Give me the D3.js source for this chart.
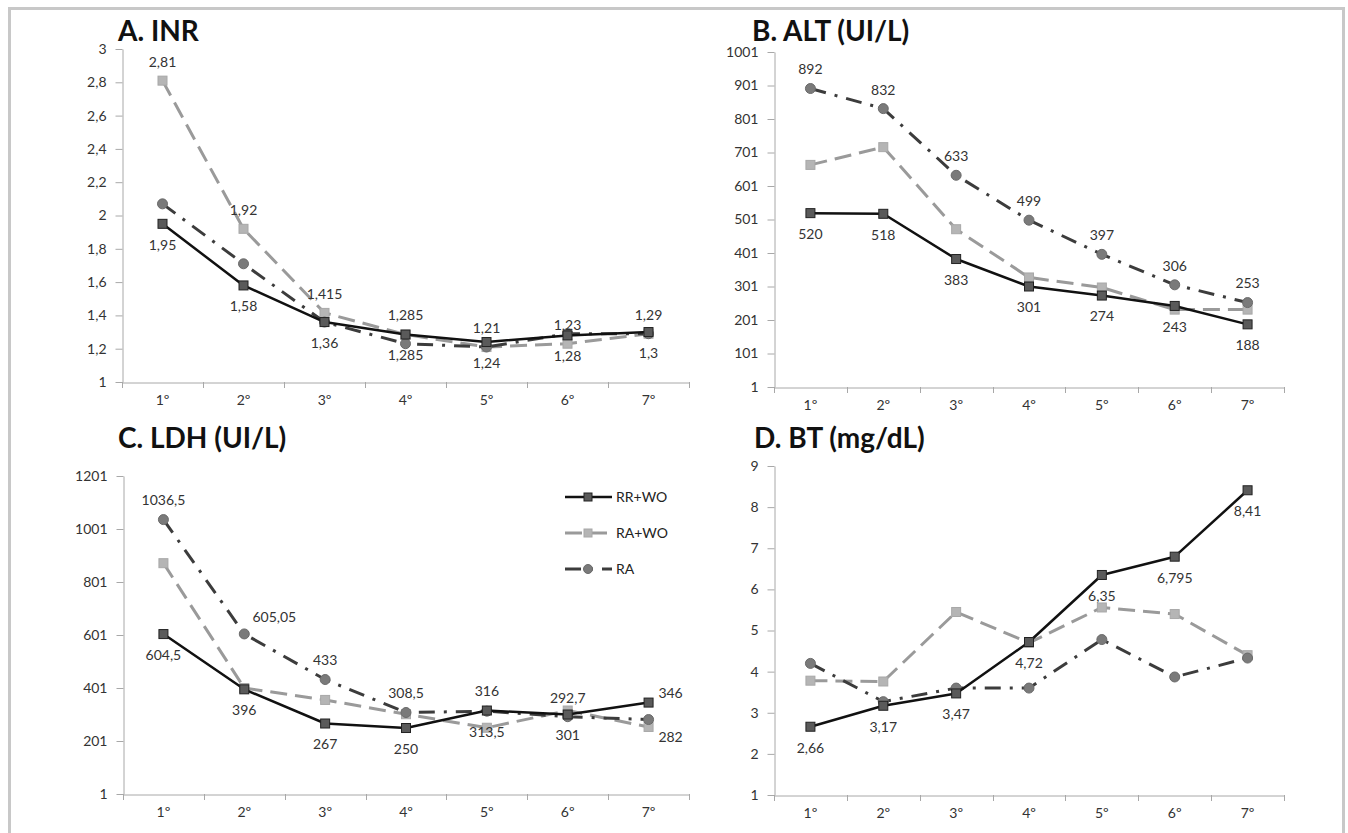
<!DOCTYPE html>
<html>
<head>
<meta charset="utf-8">
<script src="https://cdn.jsdelivr.net/npm/d3@7"></script>
<style>
  html, body { margin: 0; padding: 0; background: #fff; }
  svg { display: block; }
  text { font-family: Lato, "Open Sans", sans-serif; }
</style>
</head>
<body>
<svg id="chart" width="1348" height="833"></svg>
<script>
// ---------- DATA ----------
const categories = ["1º", "2º", "3º", "4º", "5º", "6º", "7º"];
const seriesNames = ["RR+WO", "RA+WO", "RA"];

// A. INR
const inrRRWO = [1.95, 1.58, 1.36, 1.285, 1.24, 1.28, 1.3];
const inrRAWO = [2.81, 1.92, 1.415, 1.285, 1.21, 1.23, 1.29];
const inrRA   = [2.07, 1.71, 1.36, 1.23, 1.21, 1.29, 1.29];
const inrTicks = [1, 1.2, 1.4, 1.6, 1.8, 2, 2.2, 2.4, 2.6, 2.8, 3];

// B. ALT
const altRRWO = [520, 518, 383, 301, 274, 243, 188];
const altRAWO = [664, 717, 472, 328, 298, 232, 232];
const altRA   = [892, 832, 633, 499, 397, 306, 253];
const altTicks = [1, 101, 201, 301, 401, 501, 601, 701, 801, 901, 1001];

// C. LDH
const ldhRRWO = [604.5, 396, 267, 250, 316, 301, 346];
const ldhRAWO = [872, 401, 356, 302, 251, 316, 254];
const ldhRA   = [1036.5, 605.05, 433, 308.5, 313.5, 292.7, 282];
const ldhTicks = [1, 201, 401, 601, 801, 1001, 1201];

// D. BT
const btRRWO = [2.66, 3.17, 3.47, 4.72, 6.35, 6.795, 8.41];
const btRAWO = [3.78, 3.76, 5.45, 4.70, 5.56, 5.40, 4.40];
const btRA   = [4.20, 3.27, 3.60, 3.60, 4.78, 3.87, 4.33];
const btTicks = [1, 2, 3, 4, 5, 6, 7, 8, 9];

// ---------- LABEL PLACEMENT (style, not data) ----------
const labelPlacement = {
  A: { "RR+WO": ["b","b","b","b","b","b","b"], "RA+WO": ["a","a","a","a","a","a","a"] },
  B: { "RR+WO": ["b","b","b","b","b","b","b"], "RA": ["a","a","a","a","a","a","a"] },
  C: { "RR+WO": ["b","b","b","b","a","b","r"], "RA": ["a","ar","a","a","b","a","rb"] },
  D: { "RR+WO": ["b","b","b","b","b","b","b"] }
};
const labelOffsets = {
  a: [0, -19], b: [0, 21], ar: [30, -17], r: [22, -9], rb: [22, 18]
};

// ---------- STYLES ----------
const styles = {
  "RA+WO": { stroke: "#9a9a9a", width: 3, dash: "17,8", marker: "square", fill: "#b5b5b5", mstroke: "#a8a8a8" },
  "RA":    { stroke: "#3c3c3c", width: 3, dash: "16,9,3,9", marker: "circle", fill: "#7a7a7a", mstroke: "#6a6a6a" },
  "RR+WO": { stroke: "#111111", width: 2.5, dash: null, marker: "square", fill: "#5a5a5a", mstroke: "#222" }
};
const drawOrder = ["RA+WO", "RA", "RR+WO"];

const panels = [
  { key: "A", title: "A. INR", titleX: 118, titleY: 41, x0: 122, x1: 689, yTop: 49, yBot: 382,
    domain: [1, 3], ticks: inrTicks, data: { "RR+WO": inrRRWO, "RA+WO": inrRAWO, "RA": inrRA } },
  { key: "B", title: "B. ALT (UI/L)", titleX: 752, titleY: 41, x0: 774, x1: 1284, yTop: 52, yBot: 387,
    domain: [1, 1001], ticks: altTicks, data: { "RR+WO": altRRWO, "RA+WO": altRAWO, "RA": altRA } },
  { key: "C", title: "C. LDH (UI/L)", titleX: 118, titleY: 448, x0: 123, x1: 689, yTop: 476, yBot: 794,
    domain: [1, 1201], ticks: ldhTicks, data: { "RR+WO": ldhRRWO, "RA+WO": ldhRAWO, "RA": ldhRA } },
  { key: "D", title: "D. BT (mg/dL)", titleX: 754, titleY: 448, x0: 774, x1: 1284, yTop: 466, yBot: 795,
    domain: [1, 9], ticks: btTicks, data: { "RR+WO": btRRWO, "RA+WO": btRAWO, "RA": btRA } }
];

const fmt = v => String(v).replace(".", ",");
const FS = 14;

const svg = d3.select("#chart");

// frame
svg.append("path")
  .attr("d", "M9.5,850 L9.5,8.5 L1343.5,8.5 L1343.5,850")
  .attr("fill", "none").attr("stroke", "#c8c8c8").attr("stroke-width", 3);

function marker(g, type, x, y, st, size) {
  if (type === "square") {
    g.append("rect").attr("x", x - size / 2).attr("y", y - size / 2)
      .attr("width", size).attr("height", size)
      .attr("fill", st.fill).attr("stroke", st.mstroke).attr("stroke-width", 1);
  } else {
    g.append("circle").attr("cx", x).attr("cy", y).attr("r", size / 2 + 0.5)
      .attr("fill", st.fill).attr("stroke", st.mstroke).attr("stroke-width", 1);
  }
}

panels.forEach(p => {
  const g = svg.append("g");
  const x = d3.scaleBand().domain(categories).range([p.x0, p.x1]).padding(0);
  const y = d3.scaleLinear().domain(p.domain).range([p.yBot, p.yTop]);
  const cx = c => x(c) + x.bandwidth() / 2;

  // title
  g.append("text").attr("x", p.titleX).attr("y", p.titleY)
    .attr("font-size", 28).attr("font-weight", 700).attr("fill", "#111")
    .text(p.title);

  // y axis
  const yAxis = d3.axisLeft(y).tickValues(p.ticks).tickSize(7).tickSizeOuter(0).tickPadding(9).tickFormat(fmt);
  const ya = g.append("g").attr("transform", `translate(${p.x0 + 0.5},0)`).call(yAxis);
  ya.select(".domain").attr("stroke", "#a8a8a8");
  ya.selectAll(".tick line").attr("stroke", "#a8a8a8");
  ya.selectAll(".tick text").attr("font-size", FS).attr("fill", "#333")
    .style("font-family", "Lato, 'Open Sans', sans-serif");

  // x axis: labels at centers, ticks at band edges
  const xAxis = d3.axisBottom(x).tickSize(0).tickSizeOuter(0).tickPadding(13);
  const xa = g.append("g").attr("transform", `translate(0,${p.yBot + 0.5})`).call(xAxis);
  xa.select(".domain").attr("stroke", "#a8a8a8");
  xa.selectAll(".tick text").attr("font-size", FS).attr("fill", "#333")
    .style("font-family", "Lato, 'Open Sans', sans-serif");
  const edges = categories.map(c => x(c)).concat([p.x1]);
  g.selectAll(".xedge").data(edges).enter().append("line")
    .attr("x1", d => Math.round(d) + 0.5).attr("x2", d => Math.round(d) + 0.5)
    .attr("y1", p.yBot).attr("y2", p.yBot + 6)
    .attr("stroke", "#a8a8a8");

  // series
  drawOrder.forEach(name => {
    const vals = p.data[name];
    const st = styles[name];
    const line = d3.line().x((d, i) => cx(categories[i])).y(d => y(d));
    g.append("path").datum(vals).attr("d", line)
      .attr("fill", "none").attr("stroke", st.stroke).attr("stroke-width", st.width)
      .attr("stroke-dasharray", st.dash).attr("stroke-linejoin", "round");
    vals.forEach((v, i) => marker(g, st.marker, cx(categories[i]), y(v), st, 9));
  });

  // data labels
  const lp = labelPlacement[p.key];
  Object.keys(lp).forEach(name => {
    const vals = p.data[name];
    lp[name].forEach((pos, i) => {
      if (pos === "n") return;
      const off = labelOffsets[pos];
      g.append("text")
        .attr("x", cx(categories[i]) + off[0])
        .attr("y", y(vals[i]) + off[1])
        .attr("dy", "0.35em").attr("text-anchor", "middle")
        .attr("font-size", FS).attr("fill", "#333")
        .text(fmt(vals[i]));
    });
  });
});

// legend (in panel C)
const lg = svg.append("g");
const legendY = [497, 533, 569];
seriesNames.forEach((name, i) => {
  const st = styles[name];
  lg.append("line").attr("x1", 565).attr("x2", 612).attr("y1", legendY[i]).attr("y2", legendY[i])
    .attr("stroke", st.stroke).attr("stroke-width", st.width).attr("stroke-dasharray", st.dash);
  marker(lg, st.marker, 588, legendY[i], st, 8);
  lg.append("text").attr("x", 616).attr("y", legendY[i]).attr("dy", "0.35em")
    .attr("font-size", FS).attr("fill", "#222").text(name);
});
</script>
</body>
</html>
